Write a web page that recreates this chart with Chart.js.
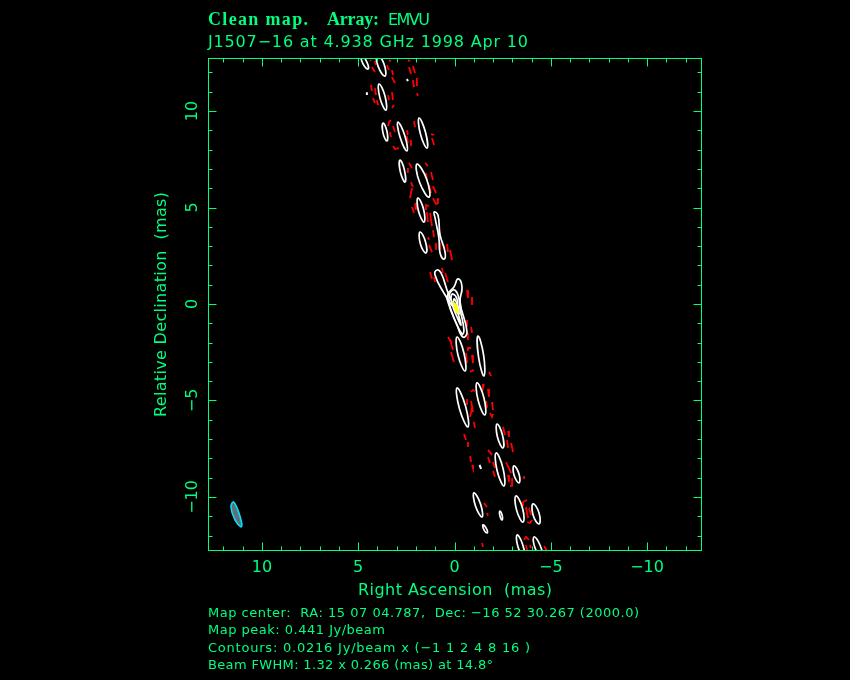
<!DOCTYPE html>
<html>
<head>
<meta charset="utf-8">
<title>Clean map</title>
<script src="https://cdn.jsdelivr.net/npm/chart.js@4"></script>
<style>
    html, body { margin: 0; padding: 0; background: #000; }
    canvas { display: block; }
</style>
</head>
<body>
<canvas id="myChart" width="850" height="680"></canvas>
<script>
// axes, in mas
const raRange = [-12.8, 12.8];
const decRange = [-12.75, 12.75];
const tickValues = [-12, -11, -10, -9, -8, -7, -6, -5, -4, -3, -2, -1, 0, 1, 2, 3, 4, 5, 6, 7, 8, 9, 10, 11, 12];
const majorTicks = [-10, -5, 0, 5, 10];
const majorLabels = ['\u221210', '\u22125', '0', '5', '10'];

// closed positive contours: ra, dec, ra, dec ...
const whiteContours = [
    [4.86,12.95, 4.55,12.54, 4.49,12.18, 4.75,12.44],
    [4.03,12.95, 3.66,12.44, 3.61,11.81, 3.97,12.33],
    [3.92,11.40, 3.61,10.78, 3.56,10.05, 3.87,10.67],
    [3.71,9.38, 3.51,8.96, 3.51,8.45, 3.71,8.86],
    [2.94,9.43, 2.57,8.70, 2.47,7.93, 2.83,8.65],
    [1.84,9.64, 1.51,8.91, 1.43,8.08, 1.77,8.81],
    [2.83,7.46, 2.60,6.94, 2.57,6.32, 2.81,6.84],
    [1.95,7.25, 1.45,6.48, 1.32,5.54, 1.82,6.32],
    [1.90,5.49, 1.61,4.92, 1.58,4.25, 1.87,4.82],
    [1.06,4.77, 0.86,4.61, 0.75,3.58, 0.49,2.69, 0.55,2.33, 0.75,2.64, 0.81,3.42, 1.01,4.46],
    [1.79,3.73, 1.51,3.24, 1.48,2.64, 1.77,3.11],
    [0.91,1.76, 0.70,1.61, 0.39,0.73, 0.08,-0.10, 0.55,0.57, 1.01,1.50],
    [-0.18,1.30, -0.39,0.88, -0.29,0.10, -0.65,-1.45, -0.44,-1.71, -0.13,-1.09, 0.34,0.10, 0.34,0.52, 0.03,0.88],
    [0.08,0.73, -0.18,0.47, -0.29,-0.26, -0.49,-1.35, -0.39,-1.55, 0.08,-0.57, 0.29,0.26],
    [0.08,0.52, -0.13,0.26, -0.18,-0.41, -0.34,-1.09, -0.13,-0.67, 0.13,0, 0.18,0.36],
    [0.03,0.26, -0.13,0, -0.23,-0.52, -0.03,-0.26],
    [-0.13,-1.71, -0.49,-2.54, -0.55,-3.47, -0.18,-2.64],
    [-1.22,-1.66, -1.51,-2.64, -1.53,-3.73, -1.25,-2.75],
    [-0.13,-4.35, -0.57,-5.28, -0.70,-6.37, -0.26,-5.44],
    [-1.17,-4.09, -1.53,-4.87, -1.58,-5.75, -1.22,-4.97],
    [-2.21,-6.22, -2.49,-6.79, -2.52,-7.46, -2.23,-6.89],
    [-2.16,-7.72, -2.52,-8.52, -2.57,-9.43, -2.21,-8.63],
    [-3.09,-8.39, -3.35,-8.81, -3.35,-9.27, -3.09,-8.86],
    [-1.01,-9.79, -1.35,-10.36, -1.43,-11.04, -1.09,-10.47],
    [-3.19,-9.95, -3.53,-10.57, -3.56,-11.30, -3.22,-10.67],
    [-4.08,-10.36, -4.39,-10.83, -4.39,-11.40, -4.08,-10.93],
    [-2.36,-10.73, -2.47,-10.93, -2.47,-11.19, -2.36,-10.98],
    [-1.48,-11.45, -1.69,-11.71, -1.69,-11.87, -1.53,-11.71],
    [-3.25,-11.97, -3.53,-12.44, -3.66,-13.26, -3.30,-12.59],
    [-4.13,-12.07, -4.44,-12.49, -4.60,-13.26, -4.18,-12.64]
];

// tiny white specks
const whiteSpecks = [
    [-1.30,-8.34, -1.38,-8.55],
    [2.47,11.66, 2.42,11.55],
    [4.55,10.98, 4.55,10.83]
];

// dashed negative contour, piece by piece
const redDashes = [
    [4.39,12.64, 4.34,12.59], [4.13,12.59, 4.08,12.38], [4.29,12.28, 4.13,12.02],
    [3.40,12.64, 3.30,12.59], [3.51,12.38, 3.40,12.12], [3.25,12.12, 3.19,11.87],
    [3.25,11.76, 3.09,11.45], [2.42,12.64, 2.31,12.59], [2.36,12.28, 2.26,11.92],
    [2.16,12.33, 2.05,11.97], [2.16,11.61, 2.10,11.24], [1.95,11.71, 1.95,11.30],
    [1.95,10.93, 1.90,10.78], [4.34,11.35, 4.29,11.04], [4.13,11.19, 4.08,10.83],
    [4.23,10.67, 4.13,10.41], [4.03,10.57, 3.97,10.31], [3.45,10.83, 3.40,10.57],
    [3.25,10.98, 3.19,10.57], [3.25,10.16, 3.14,10.31], [3.45,9.22, 3.40,9.43, 3.30,9.53],
    [3.19,9.22, 3.09,8.91], [3.35,8.91, 3.30,8.65], [3.19,8.19, 3.09,8.03, 2.88,8.08],
    [2.47,9.01, 2.42,8.76], [2.47,8.70, 2.42,8.34], [2.26,8.50, 2.26,8.19],
    [2.10,9.48, 2.05,9.17], [1.22,8.81, 1.06,8.76], [1.17,8.60, 1.06,8.24],
    [2.36,7.31, 2.21,7.05], [2.42,7.05, 2.42,6.79], [2.26,6.32, 2.16,6.06],
    [2.21,6.01, 2.31,5.49], [1.53,7.31, 1.38,7.15], [1.48,6.79, 1.43,6.42],
    [1.22,6.84, 1.12,6.42], [1.32,6.17, 1.22,5.75], [1.12,6.11, 0.96,5.75],
    [1.12,5.49, 0.96,5.18, 0.86,5.23, 0.86,5.49], [2.05,5.23, 2.00,4.87], [2.21,5.03, 2.10,4.72],
    [1.48,4.87, 1.48,5.13, 1.32,5.08], [1.43,4.77, 1.38,4.25], [1.27,4.72, 1.17,4.04],
    [1.12,3.83, 1.06,3.47], [1.38,3.47, 1.32,3.32], [1.32,3.06, 1.17,2.69],
    [0.96,3.16, 0.96,2.80], [0.75,3.16, 0.75,2.80], [0.39,3.11, 0.34,2.69],
    [0.23,2.80, 0.13,2.28], [1.27,1.66, 1.17,1.30], [1.06,1.40, 1.01,1.14],
    [0.65,1.87, 0.60,1.61], [0.49,1.61, 0.34,1.14], [-0.65,0.73, -0.70,0.31],
    [-0.91,0.36, -0.91,-0.05], [-0.65,-0.83, -0.65,-1.19], [-0.86,-1.19, -0.91,-1.50],
    [-0.65,-1.50, -0.70,-1.87], [0.34,-1.71, 0.13,-2.02], [0.23,-1.87, 0.08,-2.38],
    [0.18,-2.49, 0.03,-3.01], [-0.65,-2.38, -0.70,-2.28, -0.86,-2.28], [-0.60,-2.54, -0.65,-3.06],
    [-0.91,-2.64, -0.96,-3.06], [-0.81,-3.52, -1.01,-3.42], [-1.79,-3.52, -1.90,-3.73],
    [-1.53,-4.15, -1.48,-4.35], [-1.74,-4.40, -1.79,-4.82], [-0.86,-4.56, -0.96,-4.46, -1.06,-4.51],
    [-0.65,-4.92, -0.65,-5.23], [-0.86,-5.03, -0.96,-5.60], [-1.64,-5.03, -1.69,-5.39],
    [-1.95,-5.08, -2.00,-5.49], [-0.91,-5.39, -0.81,-5.85], [-1.01,-6.11, -1.06,-6.42],
    [-1.84,-5.65, -1.95,-5.85, -2.00,-5.70], [-0.49,-6.74, -0.60,-7.05], [-0.70,-7.15, -0.70,-7.41],
    [-2.52,-6.37, -2.62,-6.79], [-2.78,-6.58, -2.83,-6.89], [-2.73,-7.05, -2.78,-7.46],
    [-2.94,-7.20, -3.04,-7.67], [-1.74,-7.56, -1.95,-7.82], [-1.74,-7.93, -1.84,-8.24],
    [-2.00,-8.19, -2.10,-8.50], [-2.00,-8.65, -2.10,-8.96], [-2.68,-8.19, -2.94,-8.76],
    [-2.78,-8.86, -2.83,-9.22], [-2.99,-9.02, -2.99,-9.43, -2.88,-9.43], [-0.81,-7.88, -0.86,-8.19],
    [-0.91,-8.34, -0.96,-8.50], [-3.61,-8.91, -3.61,-9.07], [-1.53,-10.31, -1.69,-10.52],
    [-1.69,-10.83, -1.74,-10.98], [-3.56,-10.47, -3.56,-10.26, -3.77,-10.16], [-3.71,-10.52, -3.82,-11.09],
    [-3.87,-10.57, -3.97,-10.93], [-3.77,-11.30, -3.92,-11.35, -4.03,-11.19], [-1.43,-12.38, -1.48,-12.59],
    [-3.61,-12.23, -3.71,-12.07, -3.87,-12.23], [-3.71,-12.49, -3.77,-12.75], [-3.92,-12.49, -3.97,-12.64],
    [-4.65,-12.54, -4.81,-12.80]
];

const peakPatch = [0.08,0.10, -0.08,0, -0.23,-0.47, -0.08,-0.41];
const beamPatch = [11.48,-10.26, 11.25,-10.67, 11.04,-11.40, 11.09,-11.55, 11.40,-11.19, 11.61,-10.52];

const titleBold = 'Clean map.';
const titleArray = 'Array:';
const titleConfig = 'EMVU';
const titleSource = 'J1507\u221216 at 4.938 GHz 1998 Apr 10';
const xTitle = 'Right Ascension  (mas)';
const yTitle = 'Relative Declination  (mas)';
const infoLines = [
    'Map center:  RA: 15 07 04.787,  Dec: \u221216 52 30.267 (2000.0)',
    'Map peak: 0.441 Jy/beam',
    'Contours: 0.0216 Jy/beam x (\u22121 1 2 4 8 16 )',
    'Beam FWHM: 1.32 x 0.266 (mas) at 14.8\u00b0'
];

const GREEN = '#00ff7f';

function toPoints(flat)
{
    const pts = [];
    for (let i = 0; i < flat.length; i += 2) {
        pts.push({x: flat[i], y: flat[i + 1]});
    }
    return pts;
}

function openLine(flat, color, width)
{
    return {
        data: toPoints(flat),
        showLine: true,
        borderColor: color,
        borderWidth: width,
        pointRadius: 0,
        fill: false
    };
}

// closed smooth contour: wrap one point on each end so the spline has no
// corner where it closes, and hide the two extra segments
function closedLine(flat, color, width, tension)
{
    const pts = toPoints(flat);
    const last = pts.length + 1;
    return {
        data: [pts[pts.length - 1], ...pts, pts[0], pts[1]],
        showLine: true,
        borderColor: color,
        borderWidth: width,
        pointRadius: 0,
        tension: tension,
        fill: false,
        segment: {
            borderColor: ctx => (ctx.p0DataIndex === 0 || ctx.p0DataIndex === last) ? 'rgba(0,0,0,0)' : undefined
        }
    };
}

// text squeezed or spread to the width it has in the reference
function fitText(ctx, text, x, y, width, font)
{
    ctx.font = font;
    ctx.letterSpacing = '0px';
    const w = ctx.measureText(text).width;
    ctx.letterSpacing = ((width - w) / Math.max(text.length - 1, 1)).toFixed(3) + 'px';
    ctx.fillText(text, x, y);
    ctx.letterSpacing = '0px';
}

const framePlugin = {
    id: 'frame',
    afterDraw(chart) {
        const ctx = chart.ctx;
        const xs = chart.scales.x;
        const ys = chart.scales.y;
        const L = 208.5, R = 701.5, T = 58.5, B = 550.5;

        ctx.save();
        ctx.strokeStyle = GREEN;
        ctx.lineWidth = 1;
        ctx.strokeRect(L, T, R - L, B - T);

        ctx.beginPath();
        tickValues.forEach(v => {
            const len = majorTicks.includes(v) ? 8 : 4;
            const px = Math.round(xs.getPixelForValue(v)) + 0.5;
            ctx.moveTo(px, B); ctx.lineTo(px, B - len);
            ctx.moveTo(px, T); ctx.lineTo(px, T + len);
            const py = Math.round(ys.getPixelForValue(v)) + 0.5;
            ctx.moveTo(L, py); ctx.lineTo(L + len, py);
            ctx.moveTo(R, py); ctx.lineTo(R - len, py);
        });
        ctx.stroke();

        ctx.fillStyle = GREEN;
        ctx.textBaseline = 'alphabetic';
        ctx.textAlign = 'left';
        const sans = '"DejaVu Sans"';

        fitText(ctx, titleBold, 208, 25, 100, 'bold 18px "Liberation Serif"');
        fitText(ctx, titleArray, 327, 25, 52, 'bold 18px "Liberation Serif"');
        fitText(ctx, titleConfig, 388, 25, 42, '16px ' + sans);
        fitText(ctx, titleSource, 208, 47, 320, '16px ' + sans);

        fitText(ctx, xTitle, 358, 595, 194, '16px ' + sans);
        const infoEnds = [639, 385, 530, 493];
        infoLines.forEach((line, i) => {
            fitText(ctx, line, 208, 617 + i * 17.4, infoEnds[i] - 208, '13px ' + sans);
        });

        ctx.textAlign = 'center';
        ctx.font = '16px ' + sans;
        majorTicks.forEach((v, i) => {
            ctx.fillText(majorLabels[i], xs.getPixelForValue(v), 572);
            ctx.save();
            ctx.translate(197, ys.getPixelForValue(v));
            ctx.rotate(-Math.PI / 2);
            ctx.fillText(majorLabels[i], 0, 0);
            ctx.restore();
        });

        ctx.save();
        ctx.translate(166, 417);
        ctx.rotate(-Math.PI / 2);
        ctx.textAlign = 'left';
        fitText(ctx, yTitle, 0, 0, 225, '16px ' + sans);
        ctx.restore();
        ctx.restore();
    }
};

const datasets = [];
whiteContours.forEach(c => datasets.push(closedLine(c, '#ffffff', 1.7, 0.5)));
whiteSpecks.forEach(c => datasets.push(openLine(c, '#ffffff', 2)));
redDashes.forEach(c => datasets.push(openLine(c, '#ff0000', 1.8)));

// datasets paint in reverse order, so the peak needs a lower order to stay on top
const peak = openLine(peakPatch.concat(peakPatch.slice(0, 2)), '#ffff00', 1);
peak.fill = 'shape';
peak.backgroundColor = '#ffff00';
peak.order = -1;
datasets.push(peak);

const beam = closedLine(beamPatch, '#00e5ff', 1.5, 0.4);
beam.fill = 'shape';
beam.backgroundColor = '#5f7078';
datasets.push(beam);

new Chart(document.getElementById('myChart').getContext('2d'), {
    type: 'scatter',
    data: {datasets: datasets},
    options: {
        responsive: false,
        animation: false,
        devicePixelRatio: 1,
        layout: {padding: {left: 208, right: 149, top: 58, bottom: 130}},
        plugins: {legend: {display: false}, tooltip: {enabled: false}},
        scales: {
            x: {type: 'linear', display: false, reverse: true, min: raRange[0], max: raRange[1]},
            y: {type: 'linear', display: false, min: decRange[0], max: decRange[1]}
        }
    },
    plugins: [framePlugin]
});
</script>
</body>
</html>
